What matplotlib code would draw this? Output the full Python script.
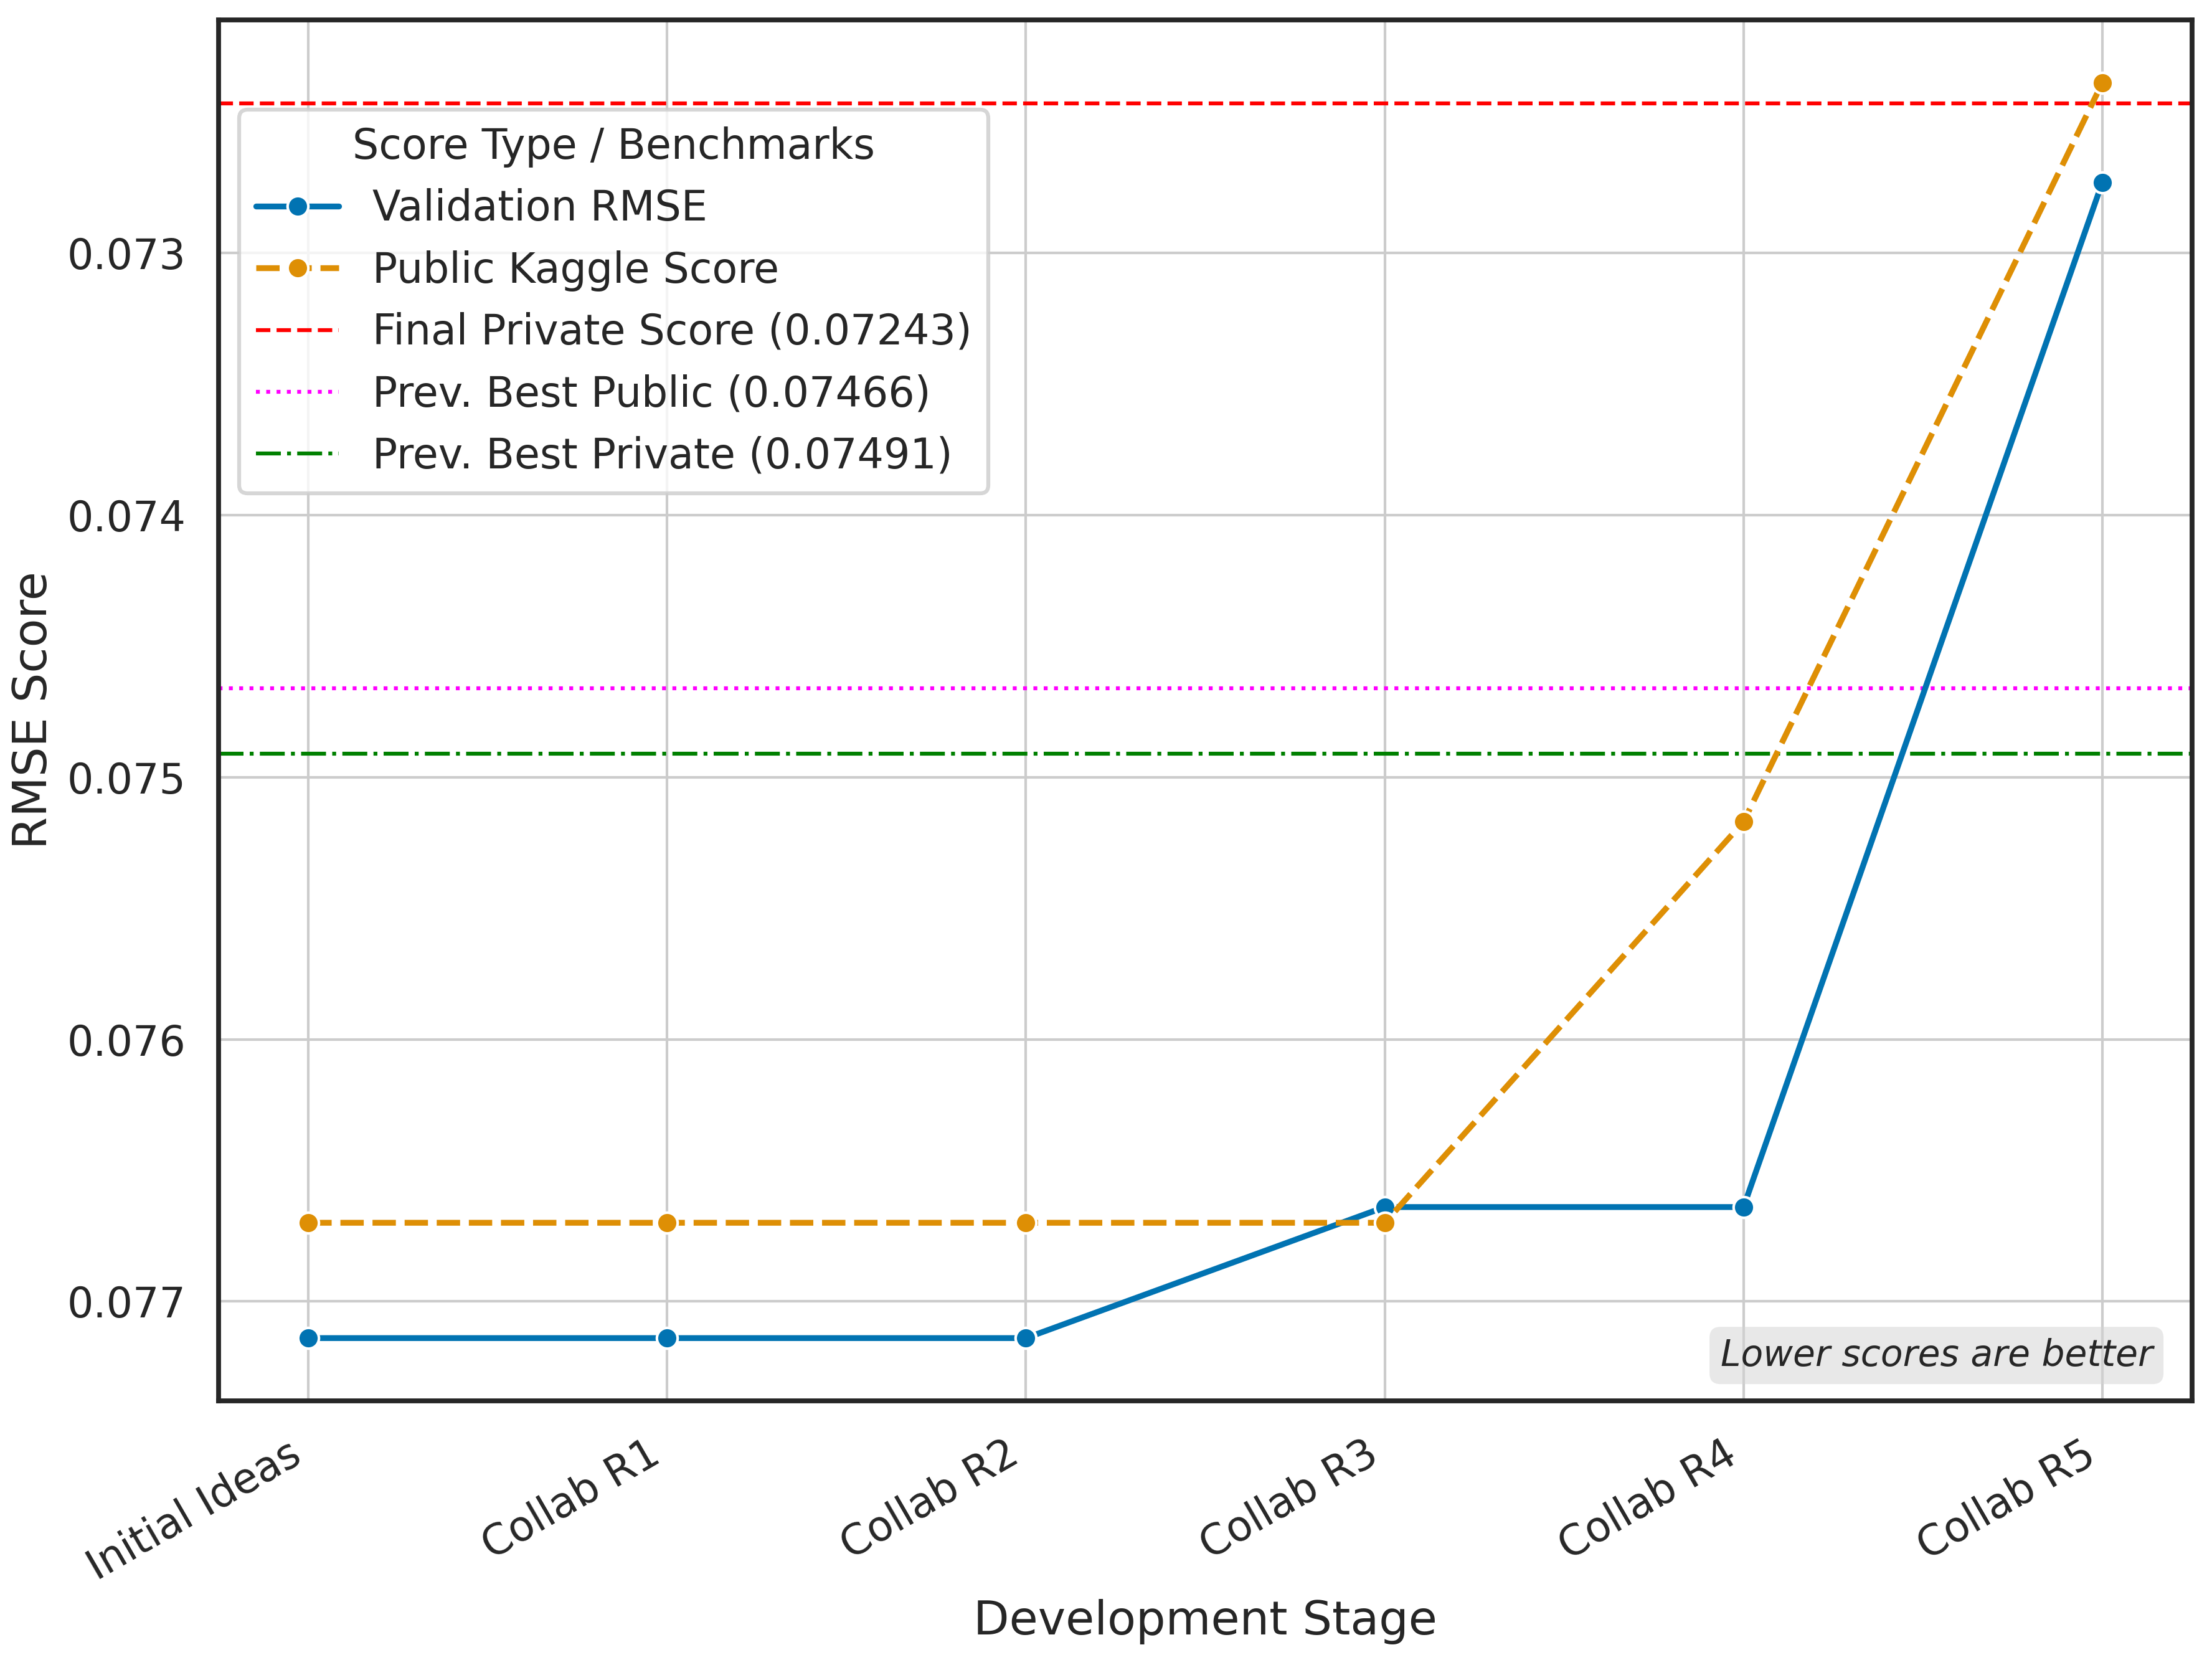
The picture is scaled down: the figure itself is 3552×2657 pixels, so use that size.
import matplotlib
matplotlib.use("Agg")
import matplotlib.pyplot as plt
import seaborn as sns

stages = ["Initial Ideas", "Collab R1", "Collab R2", "Collab R3", "Collab R4", "Collab R5"]
validation_rmse = [0.07714, 0.07714, 0.07714, 0.07664, 0.07664, 0.07273]
public_kaggle = [0.07670, 0.07670, 0.07670, 0.07670, 0.07517, 0.07235]
final_private = 0.07243
prev_best_public = 0.07466
prev_best_private = 0.07491

sns.set_theme(style="white", context="talk")
plt.rcParams['font.family'] = ['DejaVu Sans']
pal = sns.color_palette("colorblind")

fig = plt.figure(figsize=(3552 / 300, 2657 / 300), dpi=300)
ax = fig.add_axes([351 / 3552, 1 - 2249 / 2657, (3520 - 351) / 3552, (2249 - 32) / 2657])

x = list(range(len(stages)))
ax.plot(x, validation_rmse, color=pal[0], lw=2.25, marker='o', markersize=8,
        markeredgecolor='white', markeredgewidth=1, label="Validation RMSE", zorder=3)
ax.plot(x, public_kaggle, color=pal[1], lw=2.25, linestyle='--', dashes=(4, 1.5), marker='o',
        markersize=8, markeredgecolor='white', markeredgewidth=1,
        label="Public Kaggle Score", zorder=3)
ax.axhline(final_private, color='red', linestyle='--', lw=1.5,
           label=f"Final Private Score ({final_private:.5f})")
ax.axhline(prev_best_public, color='magenta', linestyle=':', lw=1.5,
           label=f"Prev. Best Public ({prev_best_public:.5f})")
ax.axhline(prev_best_private, color='green', linestyle='-.', lw=1.5,
           label=f"Prev. Best Private ({prev_best_private:.5f})")

ax.set_xticks(x)
ax.set_xticklabels(stages, rotation=30, ha='right')
ax.tick_params(axis='both', labelsize=16)
ax.invert_yaxis()
ax.grid(True, color='.8', lw=1.0)
ax.set_axisbelow(True)
ax.set_xlabel("Development Stage", fontsize=18)
ax.set_ylabel("RMSE Score", fontsize=18)

leg = ax.legend(title="Score Type / Benchmarks", loc='upper left', bbox_to_anchor=(0, 0.95),
                fontsize=16, title_fontsize=16, frameon=True)

ax.text(0.98, 0.02, "Lower scores are better", transform=ax.transAxes, ha='right', va='bottom',
        fontsize=14, style='italic', color='.15',
        bbox=dict(boxstyle='round,pad=0.3', facecolor='lightgray', edgecolor='none', alpha=0.5))

fig.savefig("out.png", dpi=300)
